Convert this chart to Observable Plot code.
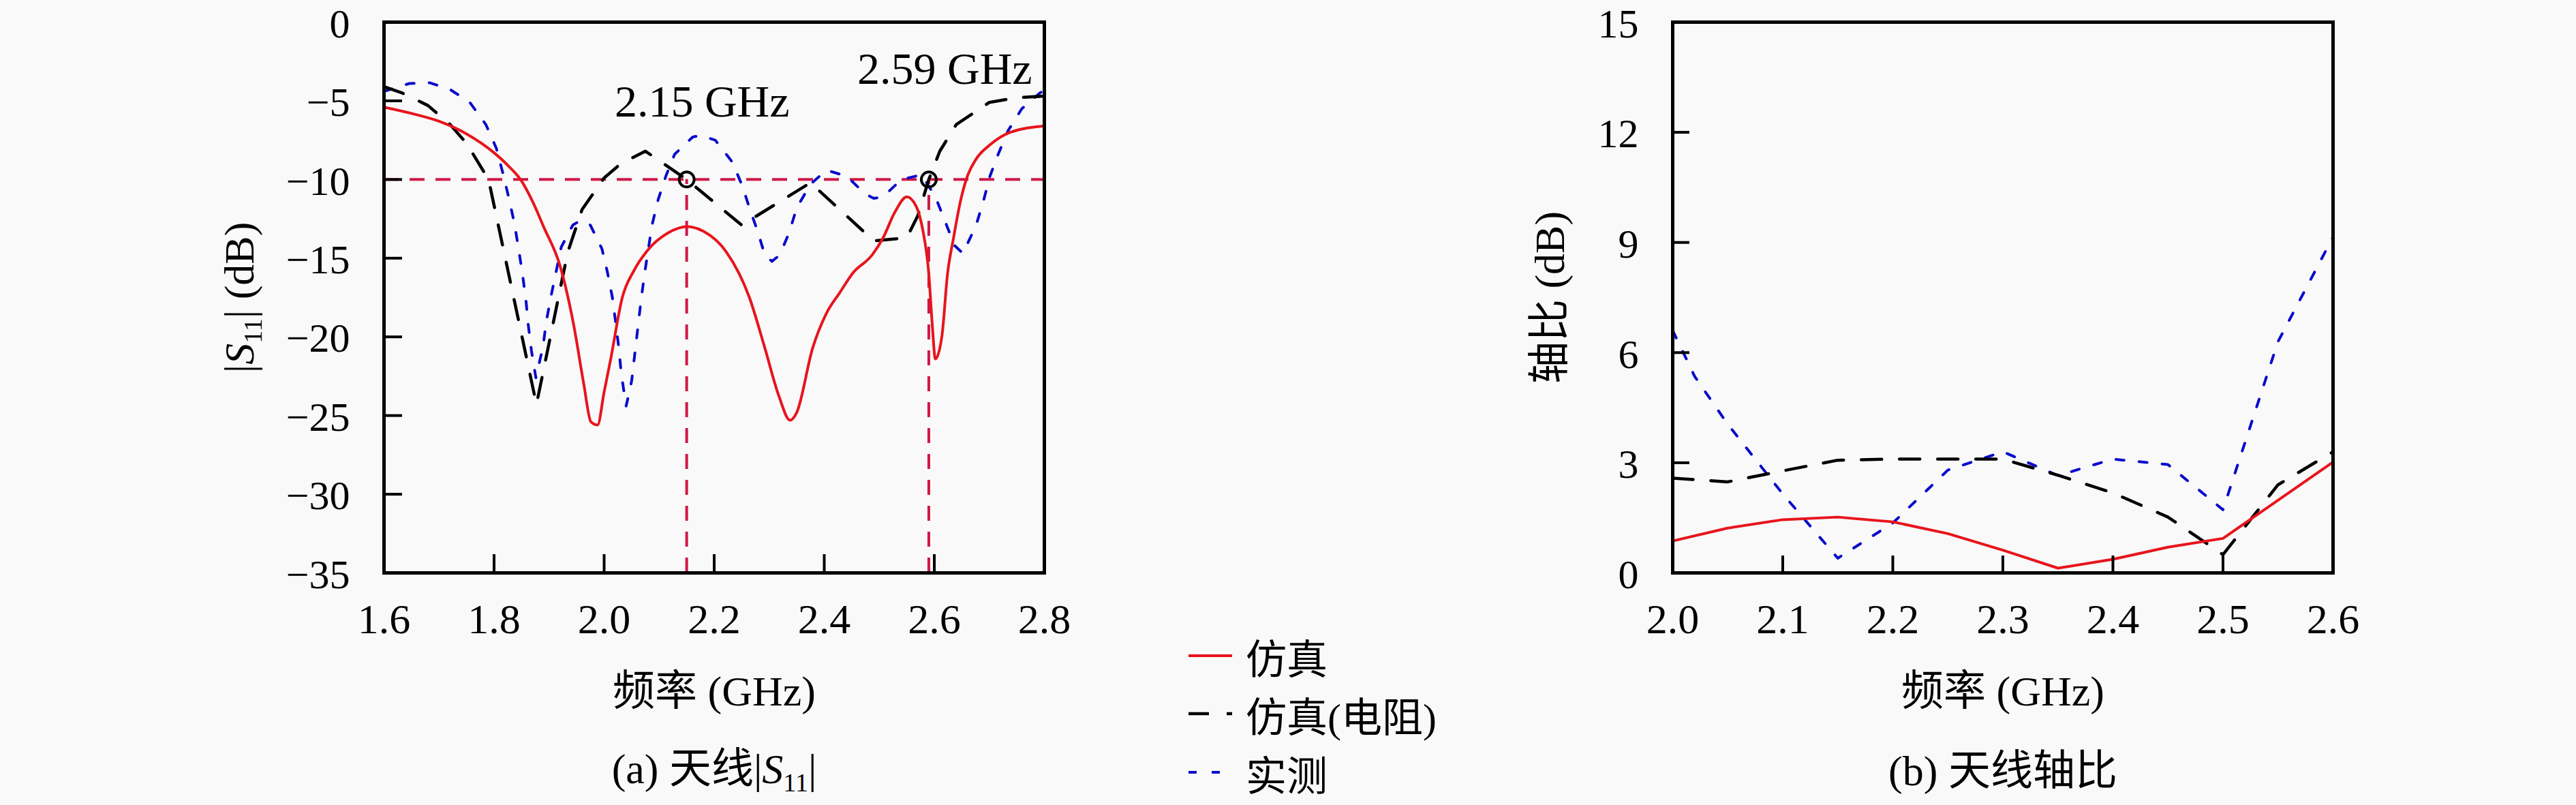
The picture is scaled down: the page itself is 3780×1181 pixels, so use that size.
<!DOCTYPE html>
<html>
<head>
<meta charset="utf-8">
<script src="https://cdn.jsdelivr.net/npm/d3@7"></script>
<script src="https://cdn.jsdelivr.net/npm/@observablehq/plot@0.6"></script>
<style>
  html, body { margin: 0; padding: 0; background: #f9f9f9; }
  #root { position: relative; width: 3780px; height: 1181px; overflow: hidden; }
  .panel { position: absolute; top: 0; }
  .lrow { position: absolute; left: 1744px; height: 80px; display: flex; align-items: center;
          font-family: "Liberation Serif", "Noto Sans CJK SC", serif; font-size: 60px; color: #000; white-space: nowrap; }
  .lrow svg { display: block; }
  .lrow span { margin-left: 20px; }
</style>
</head>
<body>
<div id="root">
  <div class="panel" id="left" style="left:0px"></div>
  <div class="panel" id="right" style="left:1890px"></div>
  <div id="legend"></div>
</div>
<script>
// ---------------- data ----------------
const seriesNames = ["仿真", "仿真(电阻)", "实测"];

// (a) |S11| — simulation
const s11SimFreq = [1.60, 1.65, 1.70, 1.75, 1.80, 1.825, 1.85, 1.87, 1.89, 1.92, 1.945, 1.963, 1.976, 1.988, 2.00, 2.012, 2.033, 2.054, 2.079, 2.116, 2.151, 2.181, 2.222, 2.264, 2.292, 2.317, 2.338, 2.35, 2.379, 2.404, 2.428, 2.453, 2.487, 2.507, 2.528, 2.55, 2.567, 2.579, 2.59, 2.596, 2.602, 2.614, 2.624, 2.635, 2.648, 2.66, 2.676, 2.701, 2.738, 2.80];
const s11SimDb   = [-5.4, -5.8, -6.3, -7.1, -8.3, -9.1, -10.1, -11.4, -13.0, -15.5, -19.3, -23.0, -25.4, -25.6, -23.5, -21.4, -17.5, -15.8, -14.5, -13.4, -13.0, -13.3, -14.6, -17.5, -20.7, -23.7, -25.3, -24.8, -20.7, -18.5, -17.2, -15.9, -14.8, -13.7, -12.1, -11.1, -11.7, -13.2, -16.0, -19.1, -21.4, -19.9, -16.0, -13.7, -11.3, -9.8, -8.7, -7.8, -7.0, -6.6];

// (a) |S11| — simulation (resistor)
const s11ResFreq = [1.60, 1.633, 1.68, 1.72, 1.75, 1.79, 1.877, 1.934, 1.96, 2.00, 2.03, 2.075, 2.15, 2.25, 2.375, 2.49, 2.55, 2.57, 2.59, 2.61, 2.64, 2.70, 2.75, 2.80];
const s11ResDb   = [-4.1, -4.5, -5.3, -6.5, -7.7, -10.0, -24.3, -14.6, -11.9, -9.9, -9.0, -8.2, -10.0, -12.9, -10.2, -13.9, -13.7, -12.3, -10.0, -8.2, -6.5, -5.1, -4.8, -4.7];

// (a) |S11| — measured
const s11MeasFreq = [1.60, 1.646, 1.683, 1.721, 1.756, 1.785, 1.804, 1.816, 1.827, 1.837, 1.845, 1.852, 1.858, 1.862, 1.868, 1.876, 1.889, 1.895, 1.903, 1.922, 1.943, 1.957, 1.975, 1.996, 2.006, 2.015, 2.021, 2.027, 2.031, 2.04, 2.05, 2.056, 2.062, 2.067, 2.073, 2.08, 2.087, 2.098, 2.112, 2.128, 2.161, 2.175, 2.202, 2.233, 2.251, 2.265, 2.28, 2.292, 2.305, 2.319, 2.336, 2.35, 2.375, 2.404, 2.441, 2.474, 2.49, 2.507, 2.54, 2.577, 2.602, 2.62, 2.637, 2.652, 2.676, 2.689, 2.701, 2.716, 2.734, 2.759, 2.792, 2.80];
const s11MeasDb   = [-4.4, -3.9, -3.85, -4.3, -5.1, -6.5, -8.0, -9.6, -11.2, -12.8, -14.5, -16.1, -17.7, -19.2, -20.9, -22.6, -20.6, -19.0, -17.5, -14.3, -12.9, -12.6, -12.9, -14.4, -15.9, -17.5, -19.1, -20.8, -22.3, -24.4, -22.8, -21.0, -19.2, -17.7, -16.1, -14.5, -12.9, -11.3, -9.8, -8.4, -7.3, -7.2, -7.5, -8.9, -10.4, -11.9, -13.4, -14.8, -15.2, -14.8, -13.4, -11.8, -10.3, -9.4, -9.8, -10.9, -11.2, -11.1, -10.0, -9.7, -11.1, -12.7, -14.2, -14.7, -12.9, -11.4, -9.8, -8.4, -6.9, -5.5, -4.5, -4.3];

// (a) markers / annotations
const threshold = -10;
const markerFreq = [2.15, 2.59];
const annText = ["2.15 GHz", "2.59 GHz"];
const annFreq = [2.178, 2.619];
const annDb = [-5.1, -3.0];

// (b) axial ratio
const arFreq = [2.00, 2.05, 2.10, 2.15, 2.20, 2.25, 2.30, 2.35, 2.40, 2.45, 2.50, 2.55, 2.60];
const arSim  = [0.87, 1.22, 1.45, 1.52, 1.39, 1.07, 0.62, 0.13, 0.37, 0.70, 0.94, 1.98, 3.02];
const arRes  = [2.58, 2.48, 2.78, 3.07, 3.10, 3.10, 3.10, 2.66, 2.18, 1.52, 0.50, 2.40, 3.30];
const arMeasFreq = [2.00, 2.02, 2.05, 2.10, 2.15, 2.20, 2.25, 2.30, 2.35, 2.40, 2.45, 2.50, 2.55, 2.60];
const arMeas     = [6.60, 5.35, 4.05, 2.15, 0.40, 1.36, 2.80, 3.30, 2.65, 3.10, 2.95, 1.72, 6.30, 9.15];

// ticks
const s11XTicks = [1.6, 1.8, 2.0, 2.2, 2.4, 2.6, 2.8];
const s11YTicks = [0, -5, -10, -15, -20, -25, -30, -35];
const arXTicks = [2.0, 2.1, 2.2, 2.3, 2.4, 2.5, 2.6];
const arYTicks = [0, 3, 6, 9, 12, 15];

// labels
const s11XLabel = "频率 (GHz)", s11YLabel = "|S11| (dB)", s11Caption = "(a) 天线|S11|";
const arXLabel = "频率 (GHz)", arYLabel = "轴比 (dB)", arCaption = "(b) 天线轴比";

// ---------------- styles ----------------
const COLORS = { sim: "#e8141c", res: "#000000", meas: "#0a0acc", ref: "#cf1747" };
const DASH = { res: "30,26", meas: "12,22", ref: "22,16" };
const FONT = '"Liberation Serif", "Noto Sans CJK SC", serif';

const toRows = (xs, ys) => xs.map((x, i) => ({ x, y: ys[i] }));

function axes(xTicks, yTicks, xFmt, tick) {
  return [
    Plot.axisX({ ticks: xTicks, tickSize: -tick, tickFormat: () => "", strokeWidth: 4, label: null }),
    Plot.axisY({ ticks: yTicks, tickSize: -tick, tickFormat: () => "", strokeWidth: 4, label: null }),
    Plot.axisX({ ticks: xTicks, tickSize: 0, tickPadding: 44, tickFormat: xFmt, label: null, fontSize: 62 }),
    Plot.axisY({ ticks: yTicks, tickSize: 0, tickPadding: 50, label: null, fontSize: 60, dy: 3 })
  ];
}

function subscriptify(svg) {
  d3.select(svg).selectAll("text").each(function () {
    const t = this.textContent;
    if (!t.includes("S11")) return;
    const [a, b] = t.split("S11");
    const sel = d3.select(this);
    sel.text(null);
    sel.append("tspan").text(a);
    sel.append("tspan").attr("font-style", "italic").text("S");
    sel.append("tspan").attr("font-size", "38px").attr("dy", "12").text("11");
    sel.append("tspan").attr("dy", "-12").text(b);
  });
}

const common = {
  height: 1181,
  marginTop: 32,
  marginBottom: 341,
  style: { background: "transparent", fontFamily: FONT, fontSize: "62px", color: "#000", maxWidth: "none", overflow: "visible" }
};

const labelText = (label, opts) =>
  Plot.text([label], { text: d => d, fontSize: 62, lineAnchor: "middle", textAnchor: "middle", fill: "#000", ...opts });

// ---------------- (a) ----------------
const left = Plot.plot({
  ...common,
  width: 1700,
  marginLeft: 563,
  marginRight: 168,
  x: { domain: [1.6, 2.8] },
  y: { domain: [-35, 0] },
  marks: [
    Plot.ruleY([threshold], { stroke: COLORS.ref, strokeWidth: 4, strokeDasharray: DASH.ref }),
    Plot.ruleX(markerFreq, { x: d => d, y1: -35, y2: threshold, stroke: COLORS.ref, strokeWidth: 4, strokeDasharray: DASH.ref }),
    Plot.line(toRows(s11MeasFreq, s11MeasDb), { x: "x", y: "y", stroke: COLORS.meas, strokeWidth: 4, strokeDasharray: DASH.meas }),
    Plot.line(toRows(s11ResFreq, s11ResDb), { x: "x", y: "y", stroke: COLORS.res, strokeWidth: 4.5, strokeDasharray: DASH.res }),
    Plot.line(toRows(s11SimFreq, s11SimDb), { x: "x", y: "y", stroke: COLORS.sim, strokeWidth: 4, curve: "monotone-x" }),
    Plot.dot(markerFreq, { x: d => d, y: () => threshold, r: 11, stroke: "#000", strokeWidth: 4, fill: "none" }),
    Plot.text(annText, { x: (d, i) => annFreq[i], y: (d, i) => annDb[i], text: d => d, fontSize: 66, fill: "#000" }),
    ...axes(s11XTicks, s11YTicks, d3.format(".1f"), 27),
    Plot.frame({ stroke: "#000", strokeWidth: 5 }),
    labelText(s11XLabel, { frameAnchor: "bottom", dy: 175 }),
    labelText(s11YLabel, { frameAnchor: "left", dx: -211, rotate: -90 }),
    labelText(s11Caption, { frameAnchor: "bottom", dy: 289 })
  ]
});
subscriptify(left);
document.getElementById("left").appendChild(left);

// ---------------- (b) ----------------
const right = Plot.plot({
  ...common,
  width: 1890,
  marginLeft: 564,
  marginRight: 357,
  x: { domain: [2.0, 2.6] },
  y: { domain: [0, 15] },
  marks: [
    Plot.line(toRows(arMeasFreq, arMeas), { x: "x", y: "y", stroke: COLORS.meas, strokeWidth: 4, strokeDasharray: DASH.meas }),
    Plot.line(toRows(arFreq, arRes), { x: "x", y: "y", stroke: COLORS.res, strokeWidth: 4.5, strokeDasharray: DASH.res }),
    Plot.line(toRows(arFreq, arSim), { x: "x", y: "y", stroke: COLORS.sim, strokeWidth: 4 }),
    ...axes(arXTicks, arYTicks, d3.format(".1f"), 25),
    Plot.frame({ stroke: "#000", strokeWidth: 5 }),
    labelText(arXLabel, { frameAnchor: "bottom", dy: 175 }),
    labelText(arYLabel, { frameAnchor: "left", dx: -179, rotate: -90 }),
    labelText(arCaption, { frameAnchor: "bottom", dy: 292 })
  ]
});
document.getElementById("right").appendChild(right);

// ---------------- legend ----------------
const legendItems = [
  { name: seriesNames[0], color: COLORS.sim, dash: null, w: 4, cy: 962 },
  { name: seriesNames[1], color: COLORS.res, dash: DASH.res, w: 4.5, cy: 1047 },
  { name: seriesNames[2], color: COLORS.meas, dash: DASH.meas, w: 4, cy: 1133 }
];
const legend = d3.select("#legend");
for (const it of legendItems) {
  const row = legend.append("div").attr("class", "lrow").style("top", (it.cy - 40) + "px");
  const s = row.append("svg").attr("width", 64).attr("height", 12);
  s.append("line").attr("x1", 0).attr("x2", 64).attr("y1", 6).attr("y2", 6)
    .attr("stroke", it.color).attr("stroke-width", it.w)
    .attr("stroke-dasharray", it.dash);
  row.append("span").text(it.name);
}
</script>
</body>
</html>
